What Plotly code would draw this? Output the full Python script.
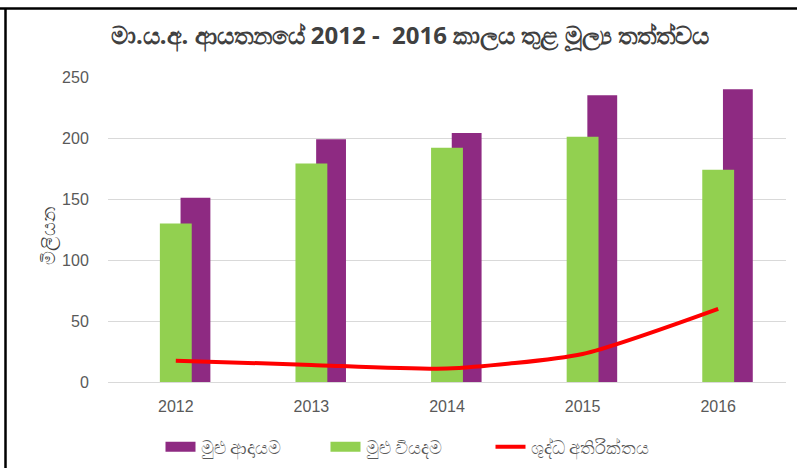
import plotly.graph_objects as go

years = ["2012", "2013", "2014", "2015", "2016"]
income = [151, 199, 204, 235, 240]
expense = [130, 179, 192, 201, 174]
surplus = [17.5, 14, 11, 23, 60]

name_income = "මුළු ආදායම"
name_expense = "මුළු වියදම"
name_surplus = "ශුද්ධ අතිරික්තය"
title_text = "මා.ය.අ. ආයතනයේ 2012 -  2016 කාලය තුළ මූල්‍ය තත්ත්වය"
ytitle = "මිලියන"

c_income = "#8E2A82"
c_expense = "#92D050"
c_surplus = "#FF0000"

W, H = 797, 468
L, R, T, B = 108, 11, 76.5, 86.3
pw = W - L - R
ph = H - T - B

fig = go.Figure()
fig.add_trace(go.Bar(x=years, y=income, name=name_income, showlegend=False,
                     marker=dict(color=c_income, line=dict(width=0)),
                     width=0.22, offset=0.035))
fig.add_trace(go.Bar(x=years, y=expense, name=name_expense, showlegend=False,
                     marker=dict(color=c_expense, line=dict(width=0)),
                     width=0.235, offset=-0.1175))
fig.add_trace(go.Scatter(x=years, y=surplus, name=name_surplus, mode="lines", showlegend=False,
                         line=dict(color=c_surplus, width=4, shape="spline", smoothing=0.6)))
# legend entries
fig.add_trace(go.Scatter(x=[None], y=[None], name=name_income, mode="lines",
                         line=dict(color=c_income, width=10)))
fig.add_trace(go.Scatter(x=[None], y=[None], name=name_expense, mode="lines",
                         line=dict(color=c_expense, width=10)))
fig.add_trace(go.Scatter(x=[None], y=[None], name=name_surplus, mode="lines",
                         line=dict(color=c_surplus, width=4)))

def px_x(p):
    return (p - L) / pw

def px_y(p):
    return (H - B - p) / ph

fig.update_layout(
    width=W, height=H,
    margin=dict(l=L, r=R, t=T, b=B),
    paper_bgcolor="white", plot_bgcolor="white",
    barmode="overlay",
    showlegend=True,
    font=dict(family="Noto Sans, Liberation Sans, sans-serif", color="#595959"),
    title=dict(text="<b>" + title_text + "</b>", x=410 / W, xref="container", xanchor="center",
               y=1 - 36 / H, yref="container", yanchor="middle",
               font=dict(size=24, color="#404040")),
    legend=dict(orientation="h", xref="container", yref="container",
                x=408 / W, xanchor="center", y=1 - 447 / H, yanchor="middle",
                font=dict(size=18, color="#595959"), entrywidth=120,
                traceorder="normal"),
    xaxis=dict(type="category", showgrid=False, zeroline=False, showline=False,
               ticks="outside", ticklen=10, tickcolor="rgba(0,0,0,0)",
               tickfont=dict(size=16, color="#595959", family="Liberation Sans, sans-serif"),
               range=[-0.5, 4.5]),
    yaxis=dict(range=[0, 250], dtick=50, showgrid=True, gridcolor="#D9D9D9", gridwidth=1,
               zeroline=True, zerolinecolor="#D9D9D9", zerolinewidth=1, showline=False,
               ticks="outside", ticklen=15, tickcolor="rgba(0,0,0,0)",
               tickfont=dict(size=16, color="#595959", family="Liberation Sans, sans-serif")),
    annotations=[dict(text=ytitle, textangle=-90, xref="paper", yref="paper",
                      x=px_x(33), y=px_y(236), showarrow=False,
                      font=dict(size=19, color="#404040"))],
    shapes=[
        dict(type="line", xref="paper", yref="paper", x0=px_x(0), x1=px_x(W),
             y0=px_y(8), y1=px_y(8), line=dict(color="black", width=2.5)),
        dict(type="line", xref="paper", yref="paper", x0=px_x(5.5), x1=px_x(5.5),
             y0=px_y(8), y1=px_y(H), line=dict(color="black", width=2.5)),
    ],
)

fig.write_html("out.html", config={"displayModeBar": False},
               post_script="document.body.style.margin='0';document.body.style.overflow='hidden';")
